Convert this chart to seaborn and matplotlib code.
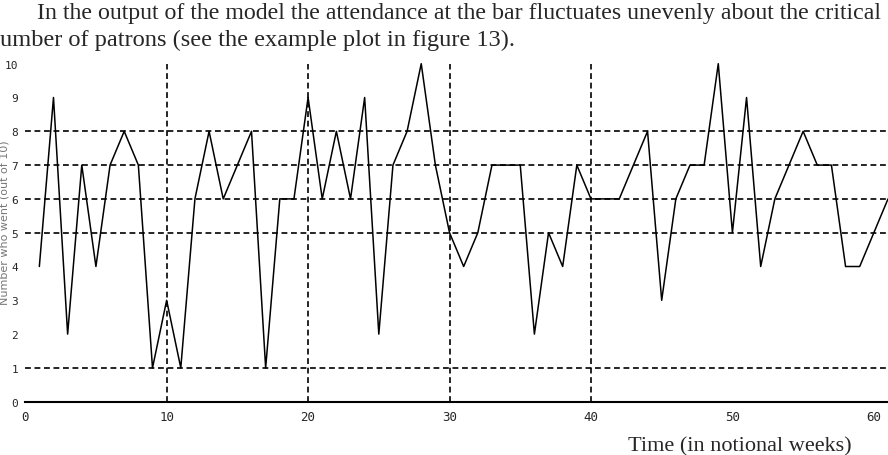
import matplotlib
matplotlib.use("Agg")
import matplotlib.pyplot as plt
import seaborn as sns
import pandas as pd

# ---- data ----
weeks = list(range(1, 62))
attendance = [4, 9, 2, 7, 4, 7, 8, 7, 1, 3,
              1, 6, 8, 6, 7, 8, 1, 6, 6, 9,
              6, 8, 6, 9, 2, 7, 8, 10, 7, 5,
              4, 5, 7, 7, 7, 2, 5, 4, 7, 6,
              6, 6, 7, 8, 3, 6, 7, 7, 10, 5,
              9, 4, 6, 7, 8, 7, 7, 4, 4, 5,
              6]
h_refs = [1, 5, 6, 7, 8]
v_refs = [10, 20, 30, 40]
x_ticks = [0, 10, 20, 30, 40, 50, 60]
y_ticks = list(range(0, 11))
header1 = "In the output of the model the attendance at the bar fluctuates unevenly about the critical"
header2 = "umber of patrons (see the example plot in figure 13)."
x_label = "Time (in notional weeks)"
y_label = "Number who went (out of 10)"

df = pd.DataFrame({"week": weeks, "went": attendance})

sns.set_style("white")
plt.rcParams["font.family"] = ["DejaVu Sans"]

fig = plt.figure(figsize=(8.88, 4.56), dpi=100)
ax = fig.add_axes([25.2 / 888, (456 - 402.7) / 456, 1 - 25.2 / 888, (402.7 - 64.7) / 456])

for h in h_refs:
    ax.axhline(h, color="black", lw=1.2, dashes=(3.5, 2.2), zorder=1)
for v in v_refs:
    ax.axvline(v, color="black", lw=1.2, dashes=(3.5, 2.2), zorder=1)

sns.lineplot(data=df, x="week", y="went", ax=ax, color="black", lw=1.1,
             zorder=3, clip_on=False)

ax.set_xlim(0, 61)
ax.set_ylim(0, 10)
ax.set_xticks(x_ticks)
ax.set_yticks(y_ticks)
ax.tick_params(axis="x", length=0, labelsize=9, pad=6)
ax.tick_params(axis="y", length=0, labelsize=8, pad=5)
for lab in ax.get_xticklabels() + ax.get_yticklabels():
    lab.set_family("DejaVu Sans Mono")
ax.set_xlabel("")
ax.set_ylabel("")
for s in ["top", "right", "left"]:
    ax.spines[s].set_visible(False)
ax.spines["bottom"].set_color("black")
ax.spines["bottom"].set_linewidth(1.5)

fig.text(37 / 888, 1 - 19 / 456, header1, family="Liberation Serif",
         fontsize=17.2, va="baseline", ha="left")
fig.text(0 / 888, 1 - 46 / 456, header2, family="Liberation Serif",
         fontsize=17.6, va="baseline", ha="left")
fig.text(740 / 888, 1 - 451 / 456, x_label, family="Liberation Serif",
         fontsize=16, va="baseline", ha="center")
fig.text(5 / 888, 1 - 223 / 456, y_label, fontsize=8, color="#777777",
         rotation=90, va="center", ha="center")

fig.savefig("out.png", dpi=100)
